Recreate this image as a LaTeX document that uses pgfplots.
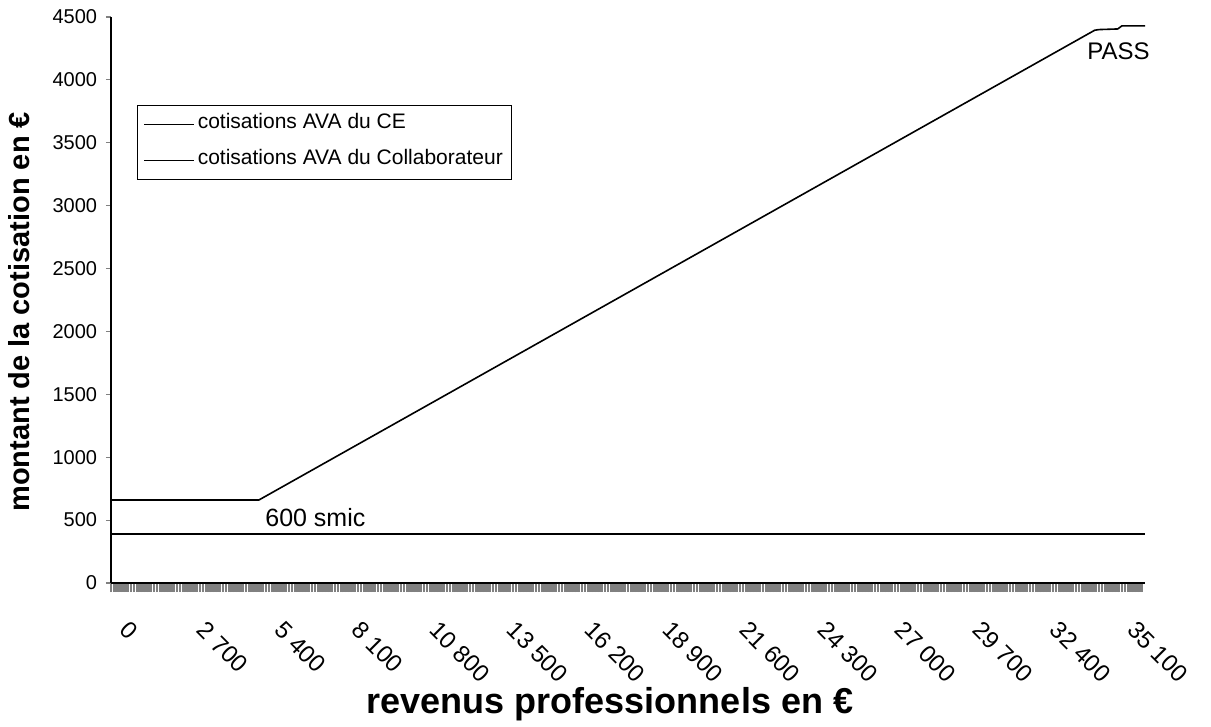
\documentclass[border=0pt]{standalone}
\usepackage{fontspec}
\setmainfont{Liberation Sans}
\usepackage{pgfplots}
\pgfplotsset{compat=1.18}
\begin{document}
\begin{tikzpicture}
\useasboundingbox (-55.5bp,-72bp) rectangle (550bp,291.5bp);
\begin{axis}[
  width=517bp, height=283bp, scale only axis,
  xmin=0, xmax=36000, ymin=0, ymax=4500,
  clip=false,
  axis x line=bottom, axis y line=left,
  axis line style={-, line width=0.6bp},
  tick align=outside,
  scaled x ticks=false, scaled y ticks=false,
  /pgf/number format/assume math mode=true,
  /pgf/number format/1000 sep={},
  ytick={0,500,...,4500},
  xtick={0,2700,...,35100},
  minor xtick={0,100,...,35900},
  xtick style={line width=1.25bp, /pgfplots/major tick length=4.5bp, /pgfplots/minor tick length=4.5bp},
  ytick style={line width=0.6bp, /pgfplots/major tick length=2.5bp},
  xticklabels={0,2 700,5 400,8 100,10 800,13 500,16 200,18 900,21 600,24 300,27 000,29 700,32 400,35 100},
  yticklabel style={font=\fontsize{10bp}{12bp}\selectfont, anchor=east, inner sep=0pt, xshift=-2.5bp},
  xticklabel style={font=\fontsize{12bp}{14bp}\selectfont, inner sep=0pt, xshift=9.5bp, yshift=-14bp, rotate=-45, anchor=north west},
  ylabel={\bfseries montant de la cotisation en €},
  ylabel style={font=\fontsize{14.5bp}{17bp}\selectfont, at={(axis description cs:-0.089,0.479)}, anchor=center},
  xlabel={\bfseries revenus professionnels en €},
  xlabel style={font=\fontsize{18bp}{21bp}\selectfont, at={(axis description cs:0.4826,0)}, anchor=center, yshift=-60.5bp},
  legend style={at={(axis description cs:0.0251,0.8445)}, anchor=north west, draw=black, line width=0.6bp,
    font=\fontsize{10.5bp}{12bp}\selectfont, inner xsep=3bp, inner ysep=2bp, row sep=3bp,
    nodes={text height=8bp, text depth=4bp, inner sep=1.5bp}},
  legend cell align=left,
  legend image code/.code={\draw[#1, line width=0.6bp] (1bp,0bp) -- (26bp,0bp);},
]
\addplot[black, line width=0.8bp] coordinates {(0,660) (5150,660) (34250,4395) (34400,4400) (35050,4405) (35200,4430) (36000,4430)};
\addlegendentry{cotisations AVA du CE}
\addplot[black, line width=1.1bp] coordinates {(0,387) (36000,387)};
\addlegendentry{cotisations AVA du Collaborateur}
\node[anchor=west, inner sep=0pt, font=\fontsize{12.5bp}{14bp}\selectfont] at (axis cs:5360,517) {600 smic};
\node[anchor=west, inner sep=0pt, font=\fontsize{12bp}{14bp}\selectfont] at (axis cs:33980,4225) {PASS};
\end{axis}
\end{tikzpicture}
\end{document}
